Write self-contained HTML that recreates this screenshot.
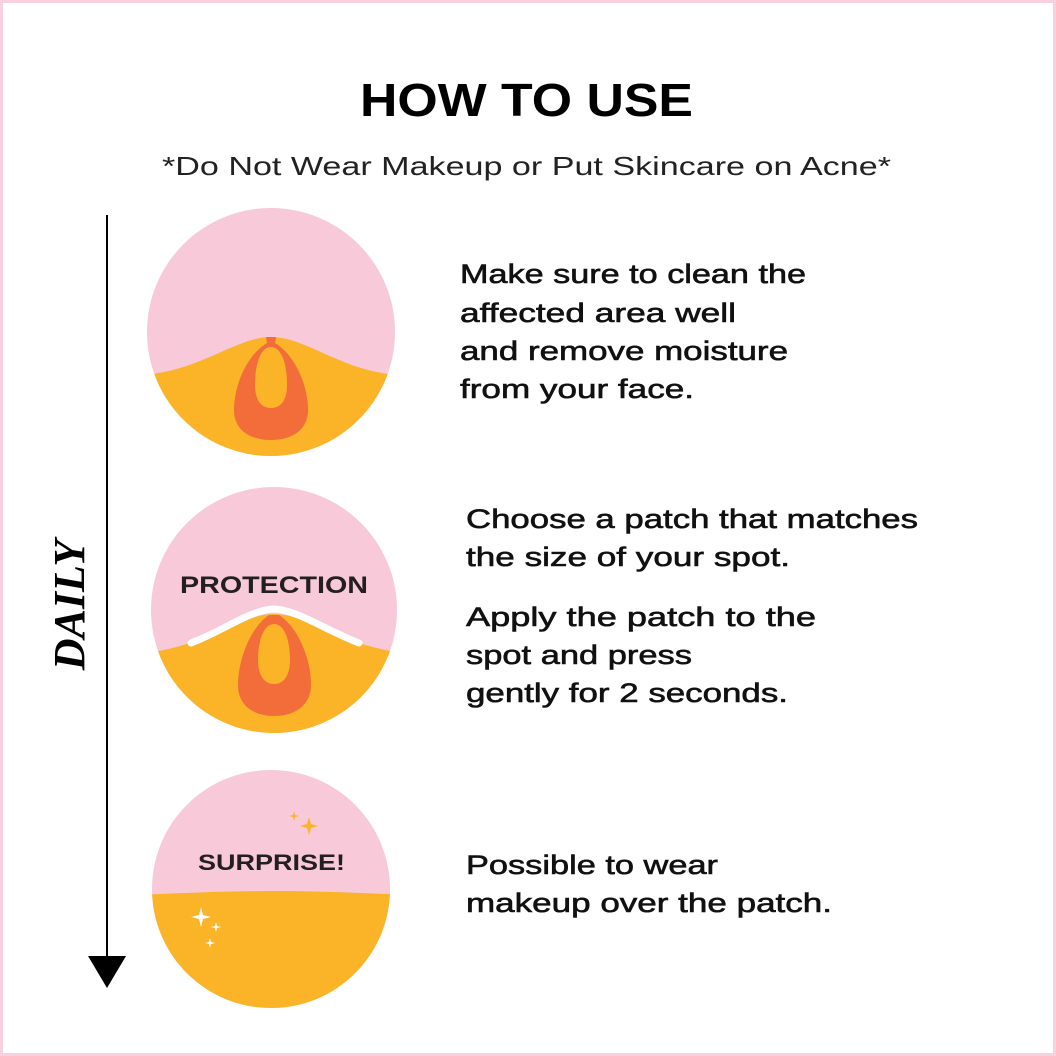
<!DOCTYPE html>
<html><head><meta charset="utf-8"><style>
html,body{margin:0;padding:0;background:#fff}
svg{display:block}
</style></head><body>
<svg width="1056" height="1056" viewBox="0 0 1056 1056" xmlns="http://www.w3.org/2000/svg" font-family="Liberation Sans, sans-serif">
<rect x="1.5" y="1.5" width="1053" height="1053" fill="#fff" stroke="#f9d0de" stroke-width="3"/>
<text x="360" y="116" textLength="333" lengthAdjust="spacingAndGlyphs" font-size="46" font-weight="bold" fill="#000">HOW TO USE</text>
<text x="162" y="175" textLength="729" lengthAdjust="spacingAndGlyphs" font-size="26" fill="#222">*Do Not Wear Makeup or Put Skincare on Acne*</text>
<line x1="107" y1="215" x2="107" y2="960" stroke="#000" stroke-width="2"/>
<polygon points="88,956 126,956 107,988" fill="#000"/>
<text transform="translate(84,605) rotate(-90)" text-anchor="middle" font-size="44" font-weight="bold" font-style="italic" fill="#000" font-family="Liberation Serif, serif">DAILY</text>
<defs>
<clipPath id="c1"><circle cx="271" cy="332" r="124"/></clipPath>
<clipPath id="c2"><circle cx="274" cy="610" r="123"/></clipPath>
<clipPath id="c3"><circle cx="271" cy="889" r="119"/></clipPath>
</defs>
<g clip-path="url(#c1)">
<rect x="140" y="200" width="270" height="270" fill="#f8c9d8"/>
<path d="M140,375 C200,372 235,337 271,337 C307,337 342,372 400,375 L400,470 L140,470Z" fill="#fbb328"/>
</g>
<path d="M266,337 L276,337 L275,343 C295,355 308,385 308,410 C308,430 292,440 271,440 C250,440 234,430 234,410 C234,385 247,355 267,343Z" fill="#f26d3a"/>
<path d="M271,347 C282,347 287,365 287,385 C287,400 281,408 271,408 C261,408 255,400 255,385 C255,365 260,347 271,347Z" fill="#fbb328"/>
<g clip-path="url(#c2)">
<rect x="140" y="480" width="270" height="260" fill="#f8c9d8"/>
<path d="M140,653 C200,650 238,614 274,614 C310,614 348,650 410,653 L410,740 L140,740Z" fill="#fbb328"/>
</g>
<path d="M191,643 C225,630 250,610 274,609 C298,610 325,630 359,643" fill="none" stroke="#fff" stroke-width="7" stroke-linecap="round"/>
<path d="M269,615 L279,615 C299,628 311,660 311,685 C311,705 295,716 274,716 C253,716 238,705 238,685 C238,660 250,628 269,615Z" fill="#f26d3a"/>
<path d="M274,624 C285,624 290,642 290,660 C290,675 284,684 274,684 C264,684 258,675 258,660 C258,642 263,624 274,624Z" fill="#fbb328"/>
<text x="180" y="593" textLength="188" lengthAdjust="spacingAndGlyphs" font-size="24" font-weight="bold" fill="#231f20">PROTECTION</text>
<g clip-path="url(#c3)">
<rect x="140" y="760" width="270" height="260" fill="#f8c9d8"/>
<path d="M140,895 C200,892 240,891 275,891 C320,891 360,893 410,895 L410,1020 L140,1020Z" fill="#fbb328"/>
</g>
<text x="198" y="870" textLength="147" lengthAdjust="spacingAndGlyphs" font-size="22" font-weight="bold" fill="#231f20">SURPRISE!</text>
<g fill="#fbb328">
<path d="M309,817 L311,824 L318,826 L311,828 L309,835 L307,828 L300,826 L307,824Z"/>
<path d="M294,811 L295,815 L299,816 L295,817 L294,821 L293,817 L289,816 L293,815Z"/>
</g>
<g fill="#fff">
<path d="M201,907 L203,915 L211,917 L203,919 L201,927 L199,919 L191,917 L199,915Z"/>
<path d="M216,922 L217,926 L221,927 L217,928 L216,932 L215,928 L211,927 L215,926Z"/>
<path d="M210,938 L211,942 L215,943 L211,944 L210,948 L209,944 L205,943 L209,942Z"/>
</g>
<g font-size="27" fill="#111" stroke="#111" stroke-width="0.6" lengthAdjust="spacingAndGlyphs">
<text x="460" y="283" textLength="346" lengthAdjust="spacingAndGlyphs">Make sure to clean the</text>
<text x="460" y="322" textLength="276" lengthAdjust="spacingAndGlyphs">affected area well</text>
<text x="460" y="360" textLength="328" lengthAdjust="spacingAndGlyphs">and remove moisture</text>
<text x="460" y="398" textLength="234" lengthAdjust="spacingAndGlyphs">from your face.</text>
<text x="466" y="528" textLength="452" lengthAdjust="spacingAndGlyphs">Choose a patch that matches</text>
<text x="466" y="566" textLength="324" lengthAdjust="spacingAndGlyphs">the size of your spot.</text>
<text x="466" y="626" textLength="350" lengthAdjust="spacingAndGlyphs">Apply the patch to the</text>
<text x="466" y="664" textLength="226" lengthAdjust="spacingAndGlyphs">spot and press</text>
<text x="466" y="702" textLength="322" lengthAdjust="spacingAndGlyphs">gently for 2 seconds.</text>
<text x="466" y="874" textLength="252" lengthAdjust="spacingAndGlyphs">Possible to wear</text>
<text x="466" y="912" textLength="366" lengthAdjust="spacingAndGlyphs">makeup over the patch.</text>
</g>
</svg>
</body></html>
